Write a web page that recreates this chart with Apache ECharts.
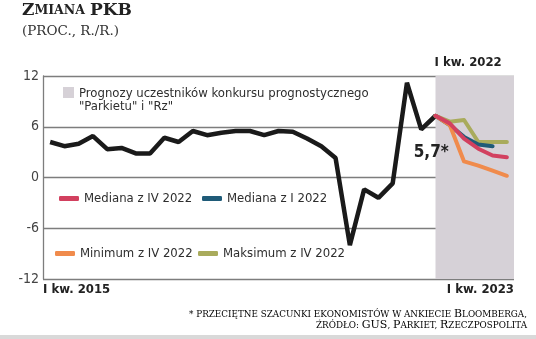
<!DOCTYPE html>
<html>
<head>
<meta charset="utf-8">
<script src="https://cdn.jsdelivr.net/npm/echarts@6/dist/echarts.min.js"></script>
<style>
  html, body { margin: 0; padding: 0; background: #fff; }
  #chart { width: 536px; height: 339px; }
</style>
</head>
<body>
<div id="chart"></div>
<script>
// Quarterly GDP change, y/y in %, from I kw. 2015 (index 0) to IV kw. 2021 (index 27)
const gdp = [4.2, 3.7, 4.0, 4.9, 3.35, 3.5, 2.85, 2.85, 4.7, 4.2, 5.5, 5.0, 5.3, 5.5,
             5.5, 5.0, 5.5, 5.4, 4.6, 3.7, 2.3, -8.0, -1.4, -2.4, -0.7, 11.2, 5.7, 7.3];
const estimateIndex = 26;           // point annotated with the Bloomberg estimate
const forecastStart = 27;           // forecasts begin from the last reported quarter
const lastIndex = 32;               // I kw. 2023

// Forecast paths (from forecastStart onwards)
const medianaIV = [7.3, 6.4, 4.6, 3.4, 2.6, 2.4];
const medianaI = [7.3, 6.2, 4.8, 3.9, 3.7];
const minimumIV = [7.3, 6.2, 1.9, 1.4, 0.8, 0.2];
const maksimumIV = [7.3, 6.6, 6.8, 4.2, 4.2, 4.2];

const xTickLabels = ['I kw. 2015', 'I kw. 2023'];
const forecastLabel = 'I kw. 2022';
const yTicks = { min: -12, max: 12, step: 6 };

const names = {
  band: 'Prognozy uczestników konkursu prognostycznego\n"Parkietu" i "Rz"',
  medIV: 'Mediana z IV 2022',
  medI: 'Mediana z I 2022',
  minIV: 'Minimum z IV 2022',
  maxIV: 'Maksimum z IV 2022'
};

const NARROW = "'DejaVu Sans Condensed', 'Liberation Sans Narrow', sans-serif";
const SERIF = "'DejaVu Serif', 'Liberation Serif', serif";
const GRID_COLOR = '#7d7d7d';
const BAND_COLOR = '#d6d1d7';

const xMin = -0.5, xMax = lastIndex + 0.5;
const toPoints = (arr, start) => arr.map((v, k) => [start + k, v]);

// Square sitting at the top of a taller icon box, so it lines up with the first text line
const topSquare = 'path://M0,0L11,0L11,11L0,11Z M0,26L0.01,26L0.01,26.01L0,26.01Z';

function legendItem(name, left, top, icon, w, h, extra) {
  return Object.assign({
    data: [{ name: name, icon: icon }],
    left: left, top: top,
    itemWidth: w, itemHeight: h,
    itemGap: 0, padding: 0,
    selectedMode: false,
    textStyle: { fontFamily: NARROW, fontSize: 13, color: '#2e2e2e' }
  }, extra || {});
}

const chart = echarts.init(document.getElementById('chart'), null, { renderer: 'canvas' });

chart.setOption({
  animation: false,
  backgroundColor: '#fff',
  title: [{
    text: '{b|Z}{s|MIANA} {b|PKB}',
    subtext: '(PROC., R./R.)',
    left: 22, top: 2, itemGap: 4, padding: 0,
    textStyle: {
      rich: {
        b: { fontFamily: SERIF, fontWeight: 'bold', fontSize: 17, color: '#222' },
        s: { fontFamily: SERIF, fontWeight: 'bold', fontSize: 12.5, color: '#222' }
      }
    },
    subtextStyle: { fontFamily: SERIF, fontSize: 13.5, color: '#333' }
  }],
  grid: { left: 43, right: 22, top: 76, bottom: 60, containLabel: false },
  xAxis: {
    type: 'value', min: xMin, max: xMax,
    axisLine: { show: false }, axisTick: { show: false }, splitLine: { show: false },
    axisLabel: {
      showMinLabel: true, showMaxLabel: true,
      alignMinLabel: 'left', alignMaxLabel: 'right',
      margin: 4, hideOverlap: false,
      fontFamily: NARROW, fontSize: 13, fontWeight: 'bold', color: '#222',
      formatter: v => (v === xMin ? xTickLabels[0] : (v === xMax ? xTickLabels[1] : ''))
    }
  },
  yAxis: {
    type: 'value', min: yTicks.min, max: yTicks.max, interval: yTicks.step,
    axisLine: { show: true, onZero: false, lineStyle: { color: GRID_COLOR, width: 1.3 } },
    axisTick: { show: false },
    splitLine: { show: true, lineStyle: { color: GRID_COLOR, width: 1.3 } },
    axisLabel: { margin: 4, fontFamily: NARROW, fontSize: 14, color: '#444' }
  },
  legend: [
    legendItem(names.band, 63, 87, topSquare, 11, 26,
      { textStyle: { fontFamily: NARROW, fontSize: 13, color: '#2e2e2e', lineHeight: 13 } }),
    legendItem(names.medIV, 59, 192, 'roundRect', 20, 5),
    legendItem(names.medI, 202, 192, 'roundRect', 20, 5),
    legendItem(names.minIV, 55, 247, 'roundRect', 20, 5),
    legendItem(names.maxIV, 198, 247, 'roundRect', 20, 5)
  ],
  series: [
    {
      name: names.band, type: 'line', data: [],
      color: BAND_COLOR, itemStyle: { color: BAND_COLOR },
      markArea: {
        silent: true,
        itemStyle: { color: BAND_COLOR },
        label: {
          show: true, position: [-1, -20],
          fontFamily: NARROW, fontSize: 13, fontWeight: 'bold', color: '#222',
          formatter: forecastLabel
        },
        data: [[{ xAxis: forecastStart, yAxis: yTicks.min }, { xAxis: xMax, yAxis: yTicks.max }]]
      },
      z: 1
    },
    {
      name: 'PKB', type: 'line', data: toPoints(gdp, 0),
      showSymbol: false, color: '#1a1a1a',
      lineStyle: { color: '#1a1a1a', width: 4.5 },
      markPoint: {
        symbol: 'circle', symbolSize: 0,
        label: {
          show: true, position: 'inside', offset: [10, 23],
          fontFamily: NARROW, fontSize: 17, fontWeight: 'bold', color: '#222',
          formatter: p => String(p.value).replace('.', ',') + '*'
        },
        data: [{ coord: [estimateIndex, gdp[estimateIndex]], value: gdp[estimateIndex] }]
      },
      z: 3
    },
    {
      name: names.maxIV, type: 'line', data: toPoints(maksimumIV, forecastStart),
      showSymbol: false, color: '#a9ab5c',
      lineStyle: { width: 4, cap: 'round', join: 'round' }, z: 3
    },
    {
      name: names.medI, type: 'line', data: toPoints(medianaI, forecastStart),
      showSymbol: false, color: '#1f5b78',
      lineStyle: { width: 4, cap: 'round', join: 'round' }, z: 3
    },
    {
      name: names.minIV, type: 'line', data: toPoints(minimumIV, forecastStart),
      showSymbol: false, color: '#f08b4c',
      lineStyle: { width: 4, cap: 'round', join: 'round' }, z: 3
    },
    {
      name: names.medIV, type: 'line', data: toPoints(medianaIV, forecastStart),
      showSymbol: false, color: '#d2405f',
      lineStyle: { width: 4, cap: 'round', join: 'round' }, z: 4
    }
  ],
  graphic: [
    {
      type: 'text', right: 9, top: 309,
      style: {
        text: '{s|* PRZECIĘTNE SZACUNKI EKONOMISTÓW W ANKIECIE }{b|B}{s|LOOMBERGA,}\n' +
              '{s|ŹRÓDŁO: }{b|GUS}{s|, }{b|P}{s|ARKIET, }{b|R}{s|ZECZPOSPOLITA}',
        align: 'right',
        rich: {
          s: { fontFamily: SERIF, fontSize: 8.8, color: '#333', align: 'right', lineHeight: 11 },
          b: { fontFamily: SERIF, fontSize: 11, color: '#333', align: 'right', lineHeight: 11 }
        }
      }
    },
    {
      type: 'rect', left: 0, top: 335, shape: { width: 536, height: 4 },
      style: { fill: '#d9d9d9' }
    }
  ]
});
</script>
</body>
</html>
